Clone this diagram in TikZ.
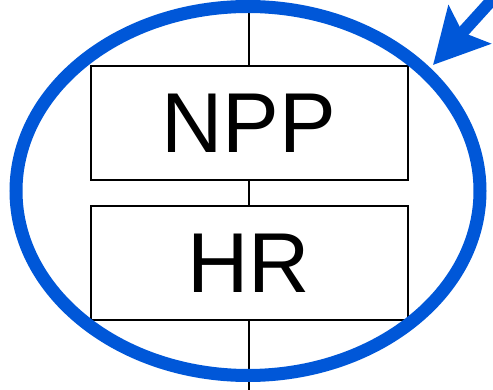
\documentclass[tikz,border=0pt]{standalone}
\usepackage{fontspec}
\setmainfont{Liberation Sans}
\usepackage{tikz}
\usetikzlibrary{positioning,arrows.meta,calc}
\definecolor{loopblue}{HTML}{0057D8}

\begin{document}
\begin{tikzpicture}[x=1pt, y=-1pt,
    layerbox/.style={draw=black, line width=2pt, minimum width=317pt,
      minimum height=114pt, inner sep=0pt,
      font=\fontsize{85}{90}\selectfont},
    wire/.style={black, line width=2pt}]
        \useasboundingbox (0,0) rectangle (493,390);
        \clip (0,0) rectangle (493,390);

        % Layers
        \node[layerbox] (npp) at (249,123) {NPP};
        \node[layerbox, below=24pt of npp] (hr) {HR};

        % Vertical wire
        \coordinate (wtop) at (npp.north |- 0,-2);
        \coordinate (wbot) at (hr.south |- 0,392);
        \draw[wire] (wtop) -- (npp.north);
        \draw[wire] (npp.south) -- (hr.north);
        \draw[wire] (hr.south) -- (wbot);

        % Loop
        \draw[loopblue, line width=13pt] (248,191) ellipse [x radius=232, y radius=184.5];

        % Pointer
        \coordinate (ptail) at (510,-20);
        \coordinate (ptip) at (433,65);
        \draw[loopblue, line width=12pt,
          -{Stealth[length=54pt, width=56pt, inset=10pt]}] (ptail) -- (ptip);
      \end{tikzpicture}
\end{document}
